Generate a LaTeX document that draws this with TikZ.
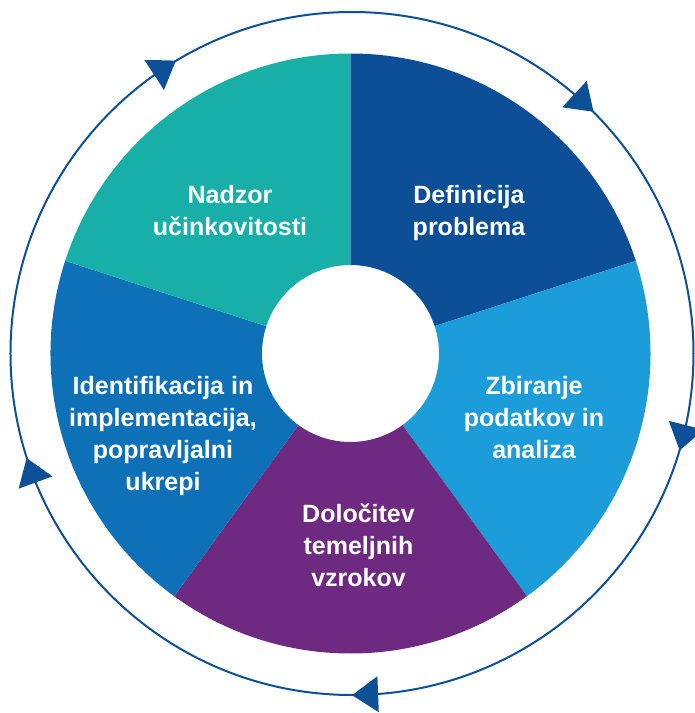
\documentclass[tikz,border=0pt]{standalone}
\usepackage{fontspec}
\setmainfont{Liberation Sans}
\definecolor{segteal}{RGB}{23,175,167}
\definecolor{segnavy}{RGB}{12,79,150}
\definecolor{segsky}{RGB}{28,156,216}
\definecolor{segplum}{RGB}{110,42,128}
\definecolor{segblue}{RGB}{14,113,184}
\definecolor{cyclecol}{RGB}{13,80,152}
\newcommand\ringsector[3]{%
  \fill[#1] (#2:\innerR) arc[start angle=#2,end angle=#3,radius=\innerR]
    -- (#3:\outerR) arc[start angle=#3,end angle=#2,radius=\outerR] -- cycle;}
\begin{document}
\begin{tikzpicture}[x=1pt,y=1pt,
  seglabel/.style={text=white,font=\fontsize{25}{31.7}\selectfont\bfseries,
    align=center,anchor=base,inner sep=0pt},
  cycleline/.style={draw=cyclecol,line width=2pt},
  tipmark/.style={fill=cyclecol}]
\useasboundingbox (-350.5,-359.5) rectangle (344.5,353.5);
\def\innerR{88.5}
\def\outerR{300}
% five ring sectors, 72 degrees each
\ringsector{segnavy}{90}{18}
\ringsector{segsky}{18}{-54}
\ringsector{segplum}{-54}{-126}
\ringsector{segblue}{-126}{-198}
\ringsector{segteal}{162}{90}
% labels (anchored at the baseline of their last line)
\node[seglabel] (nadzor) at (-120.5,118.5) {Nadzor\\učinkovitosti};
\node[seglabel] (definicija) at (118.5,118.5) {Definicija\\problema};
\node[seglabel] (zbiranje) at (183.5,-104.5) {Zbiranje\\podatkov in\\analiza};
\node[seglabel] (dolocitev) at (8,-232.5) {Določitev\\temeljnih\\vzrokov};
\node[seglabel] (identifikacija) at (-187.5,-136.5) {Identifikacija in\\implementacija,\\popravljalni\\ukrepi};
% clockwise cycle around the ring
\begin{scope}[shift={(1.5,0)}]
  \draw[cycleline] (0,0) circle[radius=341.5];
  \foreach \a in {123.2,47.2,-14.3,-87.8,200}
    \fill[tipmark,shift={(\a:341.5)},rotate=\a-90]
      (13,0) -- (-13,18) -- (-13,-18) -- cycle;
\end{scope}
\end{tikzpicture}
\end{document}
